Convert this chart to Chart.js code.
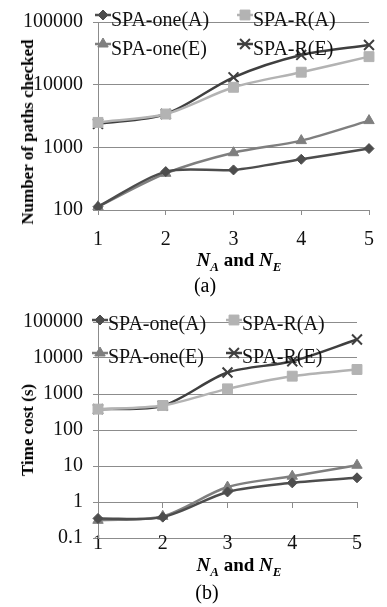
<!DOCTYPE html>
<html>
<head>
<meta charset="utf-8">
<script src="https://cdn.jsdelivr.net/npm/chart.js@4.4.1/dist/chart.umd.min.js"></script>
<style>
    body { margin: 0; background: #fff; font-family: "Liberation Serif", "Times New Roman", serif; color: #000; }
    .page { position: relative; width: 387px; height: 607px; overflow: hidden; }
    .box { position: absolute; left: 0; width: 387px; }
    .ytitle { position: absolute; font-weight: bold; font-size: 17px; white-space: nowrap; transform: translate(-50%, -50%) rotate(-90deg); }
    .xtitle { position: absolute; font-weight: bold; font-size: 19px; white-space: nowrap; transform: translate(-50%, -50%); }
    .xtitle i sub { font-size: 13px; }
    .cap { position: absolute; font-size: 20px; white-space: nowrap; transform: translate(-50%, -50%); }
</style>
</head>
<body>
<div class="page">
    <div class="box" style="top:0;height:250px"><canvas id="pathsChart"></canvas></div>
    <div class="ytitle" style="left:28px;top:132px">Number of paths checked</div>
    <div class="xtitle" style="left:239px;top:262px"><i>N<sub>A</sub></i> and <i>N<sub>E</sub></i></div>
    <div class="cap" style="left:205px;top:285px">(a)</div>

    <div class="box" style="top:300px;height:260px"><canvas id="timeChart"></canvas></div>
    <div class="ytitle" style="left:28px;top:430px">Time cost (s)</div>
    <div class="xtitle" style="left:239px;top:567px"><i>N<sub>A</sub></i> and <i>N<sub>E</sub></i></div>
    <div class="cap" style="left:207px;top:592px">(b)</div>
</div>

<script>
// categories and series
const xLabels = ['1', '2', '3', '4', '5'];
const seriesNames = ['SPA-one(A)', 'SPA-R(A)', 'SPA-one(E)', 'SPA-R(E)'];

// (a) number of paths checked
const pathsOneA = [113, 410, 436, 645, 955];
const pathsRA = [2500, 3400, 9080, 15800, 28000];
const pathsOneE = [113, 385, 820, 1280, 2670];
const pathsRE = [2360, 3400, 13100, 29800, 43000];
const pathsTicks = [100, 1000, 10000, 100000];

// (b) time cost
const timeOneA = [0.35, 0.38, 1.9, 3.4, 4.7];
const timeRA = [380, 480, 1390, 3130, 4800];
const timeOneE = [0.31, 0.4, 2.6, 5.2, 10.5];
const timeRE = [380, 473, 3950, 8100, 32700];
const timeTicks = [0.1, 1, 10, 100, 1000, 10000, 100000];

const FONT = '"Liberation Serif", "Times New Roman", serif';
const GRID = '#8c8c8c';

// line styles per series
const looks = [
    { color: '#4d4d4d', pointStyle: 'rectRot', radius: 5 },
    { color: '#b3b3b3', pointStyle: 'rect', radius: 7 },
    { color: '#7f7f7f', pointStyle: 'triangle', radius: 6 },
    { color: '#3f3f3f', pointStyle: 'crossRot', radius: 7 }
];

function buildDatasets(values) {
    return values.map((data, i) => ({
        label: seriesNames[i],
        data: data,
        borderColor: looks[i].color,
        backgroundColor: looks[i].color,
        pointBackgroundColor: looks[i].color,
        pointBorderColor: looks[i].color,
        pointStyle: looks[i].pointStyle,
        pointRadius: looks[i].radius,
        pointBorderWidth: looks[i].pointStyle === 'crossRot' ? 2 : 1,
        borderWidth: 2.5,
        tension: 0.3,
        fill: false
    }));
}

// legend drawn inside the plot, two columns
const inlineLegend = {
    id: 'inlineLegend',
    afterDatasetsDraw(chart, args, opts) {
        const ctx = chart.ctx;
        chart.data.datasets.forEach((ds, i) => {
            const x = opts.cols[i % 2];
            const y = opts.rows[Math.floor(i / 2)];
            ctx.save();
            ctx.strokeStyle = ds.borderColor;
            ctx.lineWidth = ds.borderWidth;
            ctx.beginPath();
            ctx.moveTo(x, y);
            ctx.lineTo(x + 16, y);
            ctx.stroke();
            ctx.fillStyle = ds.pointBackgroundColor;
            ctx.strokeStyle = ds.pointBorderColor;
            ctx.lineWidth = ds.pointBorderWidth;
            Chart.helpers.drawPoint(ctx, {
                pointStyle: ds.pointStyle,
                radius: ds.pointRadius,
                borderWidth: ds.pointBorderWidth,
                rotation: 0
            }, x + 8, y);
            ctx.fillStyle = '#111';
            ctx.font = '20px ' + FONT;
            ctx.textBaseline = 'middle';
            ctx.textAlign = 'left';
            ctx.fillText(ds.label, x + 16, y + opts.textDy);
            ctx.restore();
        });
    }
};

function logOptions(min, max, ticks, xPosition) {
    return {
        responsive: true,
        maintainAspectRatio: false,
        animation: false,
        plugins: { legend: { display: false }, tooltip: { enabled: false } },
        scales: {
            x: {
                type: 'category',
                position: xPosition,
                offset: false,
                grid: { drawOnChartArea: false, drawTicks: true, tickLength: 5, color: GRID },
                border: { color: GRID, width: 1 },
                ticks: { color: '#111', font: { family: FONT, size: 20 }, padding: 2, maxRotation: 0 }
            },
            y: {
                type: 'logarithmic',
                min: min,
                max: max,
                afterBuildTicks: s => { s.ticks = ticks.map(v => ({ value: v })); },
                afterFit: s => { s.width = 98; },
                grid: { color: GRID, lineWidth: 1, tickLength: 5 },
                border: { color: GRID, width: 1 },
                ticks: {
                    color: '#111',
                    font: { family: FONT, size: 20 },
                    padding: 10,
                    callback: v => String(v)
                }
            }
        }
    };
}

// (a) Number of paths checked
const pathsOpts = logOptions(100, 100000, pathsTicks, 'bottom');
pathsOpts.layout = { padding: { top: 22, right: 7, bottom: 0, left: 0 } };
pathsOpts.scales.x.afterFit = s => { s.height = 40; };
pathsOpts.scales.x.ticks.padding = 13;
pathsOpts.plugins.inlineLegend = { cols: [95, 237], rows: [15, 44], textDy: 6 };

new Chart(document.getElementById('pathsChart'), {
    type: 'line',
    data: {
        labels: xLabels,
        datasets: buildDatasets([pathsOneA, pathsRA, pathsOneE, pathsRE])
    },
    options: pathsOpts,
    plugins: [inlineLegend]
});

// (b) Time cost, x axis crosses at 1
const timeOpts = logOptions(0.1, 100000, timeTicks, { y: 1 });
timeOpts.layout = { padding: { top: 15, right: 7, bottom: 6, left: 0 } };
timeOpts.scales.x.ticks.padding = 25;
timeOpts.plugins.inlineLegend = { cols: [92, 226], rows: [20, 53], textDy: 5 };

new Chart(document.getElementById('timeChart'), {
    type: 'line',
    data: {
        labels: xLabels,
        datasets: buildDatasets([timeOneA, timeRA, timeOneE, timeRE])
    },
    options: timeOpts,
    plugins: [inlineLegend]
});
</script>
</body>
</html>
